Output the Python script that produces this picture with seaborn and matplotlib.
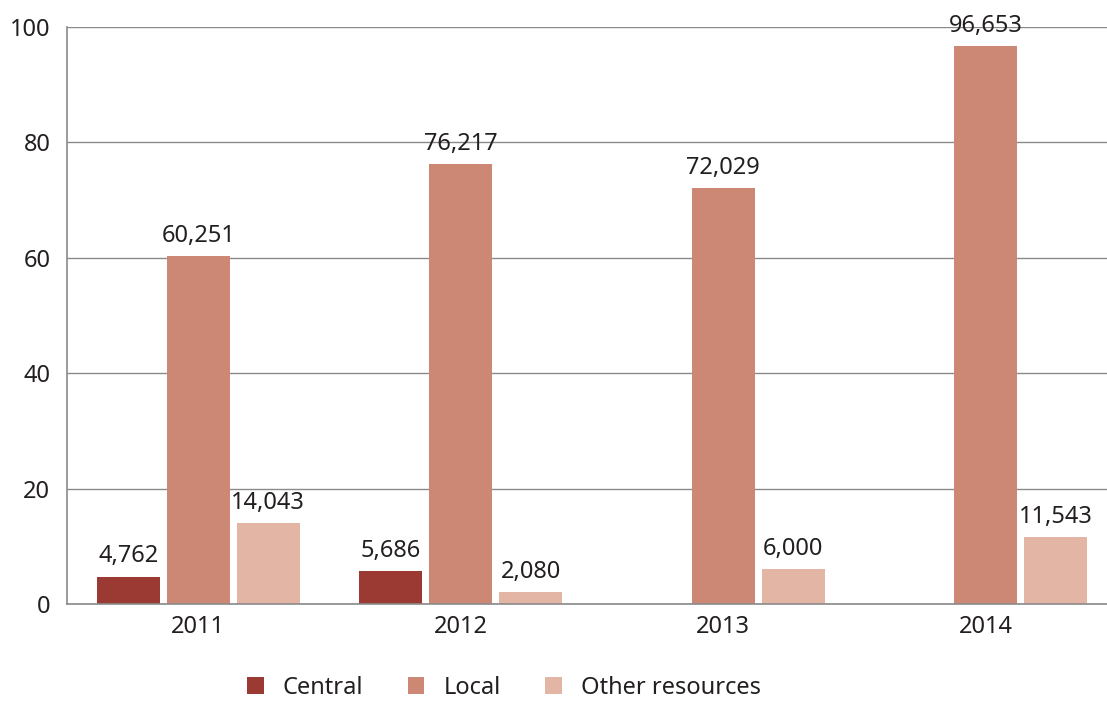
import matplotlib
matplotlib.use('Agg')
import matplotlib.pyplot as plt
from matplotlib.ticker import FixedLocator
import seaborn as sns
import numpy as np
import pandas as pd

years = ['2011', '2012', '2013', '2014']
series = ['Central', 'Local', 'Other resources']
central = [4762, 5686, np.nan, np.nan]
local = [60251, 76217, 72029, 96653]
other = [14043, 2080, 6000, 11543]

colors = ['#9B3A33', '#CD8875', '#E2B5A5']
grid_color = '#8A8A8A'
text_color = '#231F20'

rows = []
for s, vals in zip(series, [central, local, other]):
    for y, v in zip(years, vals):
        # missing values drawn as empty (zero-height) bars
        rows.append({'year': y, 'series': s, 'value': 0 if np.isnan(v) else v / 1000})
df = pd.DataFrame(rows)

sns.set_style('white')
plt.rcParams['font.family'] = ['Noto Sans', 'DejaVu Sans']

fig = plt.figure(figsize=(11.07, 7.02), dpi=100)
ax = fig.add_axes([67 / 1107, 1 - 604 / 702, 1050 / 1107, 577 / 702])

sns.barplot(data=df, x='year', y='value', hue='series', palette=colors,
            width=0.8, gap=0.1, saturation=1, linewidth=0, ax=ax, legend=True)

# value labels
for cont, vals in zip(ax.containers, [central, local, other]):
    labels = ['' if np.isnan(v) else f'{int(v):,}' for v in vals]
    ax.bar_label(cont, labels=labels, padding=6, fontsize=17, color=text_color)

ax.set_xlim(-0.5, 3.5)
ax.set_ylim(0, 100)
ax.set_yticks([0, 20, 40, 60, 80, 100])
ax.yaxis.grid(True, color=grid_color, linewidth=1)
ax.set_axisbelow(True)
ax.set_xlabel('')
ax.set_ylabel('')

for side in ['top', 'right']:
    ax.spines[side].set_visible(False)
for side in ['left', 'bottom']:
    ax.spines[side].set_color(grid_color)
    ax.spines[side].set_linewidth(1.2)

ax.tick_params(axis='both', which='major', length=0, labelsize=17, colors=text_color, pad=8)
ax.tick_params(axis='y', pad=12)
ax.xaxis.set_minor_locator(FixedLocator([0.5, 1.5, 2.5]))
ax.tick_params(axis='x', which='minor', direction='in', length=14, width=1.2, color=grid_color)

handles, labs = ax.get_legend_handles_labels()
ax.legend(handles, labs, loc='center', bbox_to_anchor=((504 - 67) / 1050, -0.145),
          ncol=3, frameon=False, fontsize=17, handlelength=0.7, handleheight=0.7,
          columnspacing=1.9, handletextpad=0.8, labelcolor=text_color)

fig.savefig('out.png', dpi=100)
